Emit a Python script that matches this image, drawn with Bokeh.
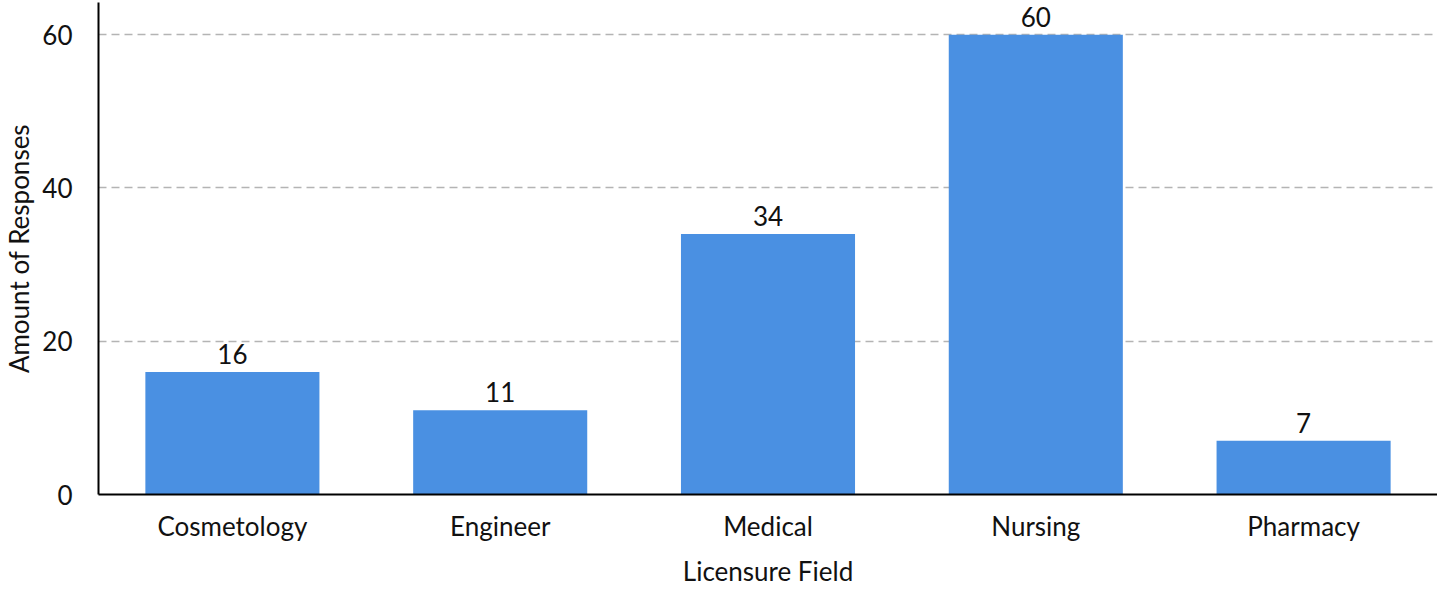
from bokeh.plotting import figure
from bokeh.models import ColumnDataSource, LabelSet, Range1d
from bokeh.core.properties import value
from bokeh.embed import file_html
from bokeh.resources import INLINE

categories = ["Cosmetology", "Engineer", "Medical", "Nursing", "Pharmacy"]
responses = [16, 11, 34, 60, 7]
y_ticks = [0, 20, 40, 60]

FONT = "Lato"
FS = "26px"
src = ColumnDataSource(dict(cat=categories, val=responses, lab=[str(v) for v in responses]))

p = figure(x_range=categories, y_range=Range1d(0, 64.2), width=1437, height=589,
           output_backend="svg", toolbar_location=None,
           min_border_left=80, min_border_right=0, min_border_top=2, min_border_bottom=80)
p.outline_line_color = None
p.vbar(x="cat", top="val", width=0.65, source=src, color="#4a90e2", line_color=None)

labels = LabelSet(x="cat", y="val", text="lab", source=src, text_align="center",
                  text_baseline="bottom", y_offset=8, text_font=value(FONT),
                  text_font_size=FS, text_color="#111111")
p.add_layout(labels)

p.xgrid.grid_line_color = None
p.ygrid.grid_line_color = "#b4b4b4"
p.ygrid.grid_line_width = 1.5
p.ygrid.grid_line_dash = "8 5"
p.yaxis.ticker = y_ticks

for ax in (p.xaxis[0], p.yaxis[0]):
    ax.axis_line_color = "black"
    ax.axis_line_width = 2
    ax.major_tick_line_color = None
    ax.minor_tick_line_color = None
    ax.major_label_text_font = FONT
    ax.major_label_text_font_size = FS
    ax.major_label_text_color = "#111111"
    ax.axis_label_text_font = FONT
    ax.axis_label_text_font_size = FS
    ax.axis_label_text_font_style = "normal"
    ax.axis_label_text_color = "#111111"

p.xaxis.axis_label = "Licensure Field"
p.yaxis.axis_label = "Amount of Responses"
p.xaxis.major_label_standoff = 9
p.xaxis.axis_label_standoff = 10
p.yaxis.major_label_standoff = 20
p.yaxis.axis_label_standoff = 4

open("out.html", "w").write(file_html(p, INLINE))
